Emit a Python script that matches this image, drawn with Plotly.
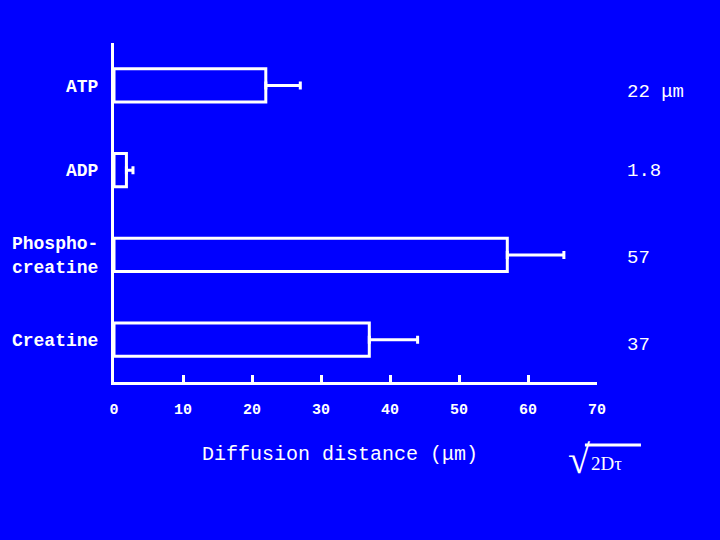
"""
Diffusion distances of high-energy phosphate metabolites (sqrt(2*D*tau)),
drawn as outlined horizontal bars on a slide-blue background.
"""

import plotly.graph_objects as go

# ============================================================
# Data
# ============================================================

categories  = ["ATP", "ADP", "Phospho-<br>creatine", "Creatine"]
distance_um = [22, 1.8, 57, 37]
error_plus  = [5, 0.95, 8.2, 7]
value_text  = ["22 μm", "1.8", "57", "37"]
x_ticks     = [0, 10, 20, 30, 40, 50, 60, 70]

BLUE  = "#0000ff"
WHITE = "#ffffff"
MONO  = "Liberation Mono, Courier New, monospace"
SERIF = "Liberation Serif, Times New Roman, serif"

# ============================================================
# Figure
# ============================================================

fig = go.Figure()
fig.add_trace(go.Bar(
    y=categories,
    x=distance_um,
    orientation="h",
    width=0.39,
    marker=dict(color=BLUE, line=dict(color=WHITE, width=3)),
    error_x=dict(
        type="data",
        symmetric=False,
        array=error_plus,
        arrayminus=[0] * len(error_plus),
        color=WHITE,
        thickness=3,
        width=4,
    ),
    showlegend=False,
    hoverinfo="skip",
))

# value labels on the right of the plot
yshifts = [-7, -1, -3, -5]
for cat, txt, ys in zip(categories, value_text, yshifts):
    fig.add_annotation(
        x=1.058, y=cat, xref="paper", yref="y",
        text=txt, showarrow=False, xanchor="left", yanchor="middle",
        yshift=ys,
        font=dict(family=MONO, size=19, color=WHITE),
    )

# axis title
fig.add_annotation(
    x=0.467, y=-0.213, xref="paper", yref="paper",
    text="Diffusion distance (μm)", showarrow=False,
    xanchor="center", yanchor="middle",
    font=dict(family=MONO, size=20, color=WHITE),
)

# sqrt(2Dτ) formula
fig.add_annotation(
    x=0.936, y=-0.23, xref="paper", yref="paper",
    text="√", showarrow=False, xanchor="left", yanchor="middle",
    font=dict(family=SERIF, size=40, color=WHITE),
)
fig.add_annotation(
    x=0.984, y=-0.239, xref="paper", yref="paper",
    text="2Dτ", showarrow=False, xanchor="left", yanchor="middle",
    font=dict(family=SERIF, size=19, color=WHITE),
)
fig.add_shape(
    type="line", xref="paper", yref="paper",
    x0=0.975, x1=1.091, y0=-0.186, y1=-0.186,
    line=dict(color=WHITE, width=3),
)

fig.update_xaxes(
    range=[0, 70],
    tickvals=x_ticks,
    automargin=False,
    showgrid=False,
    zeroline=False,
    showline=True,
    linecolor=WHITE,
    linewidth=3,
    ticks="inside",
    ticklen=7,
    tickwidth=3,
    tickcolor=WHITE,
    ticklabelstandoff=11,
    tickfont=dict(family=MONO, size=15, color=WHITE, weight="bold"),
)
fig.update_yaxes(
    range=[3.5, -0.5],
    automargin=False,
    showgrid=False,
    zeroline=False,
    showline=True,
    linecolor=WHITE,
    linewidth=3,
    ticks="",
    ticklabelstandoff=9,
    tickfont=dict(family=MONO, size=18, color=WHITE, weight="bold"),
)

fig.update_layout(
    width=720,
    height=540,
    margin=dict(l=114, r=123, t=43, b=158),
    paper_bgcolor=BLUE,
    plot_bgcolor=BLUE,
)

# drop the browser's default page margin so the figure fills the window
fig.write_html(
    "out.html",
    config={"displayModeBar": False},
    post_script="document.body.style.margin='0';"
                "document.body.style.background='#0000ff';",
)
